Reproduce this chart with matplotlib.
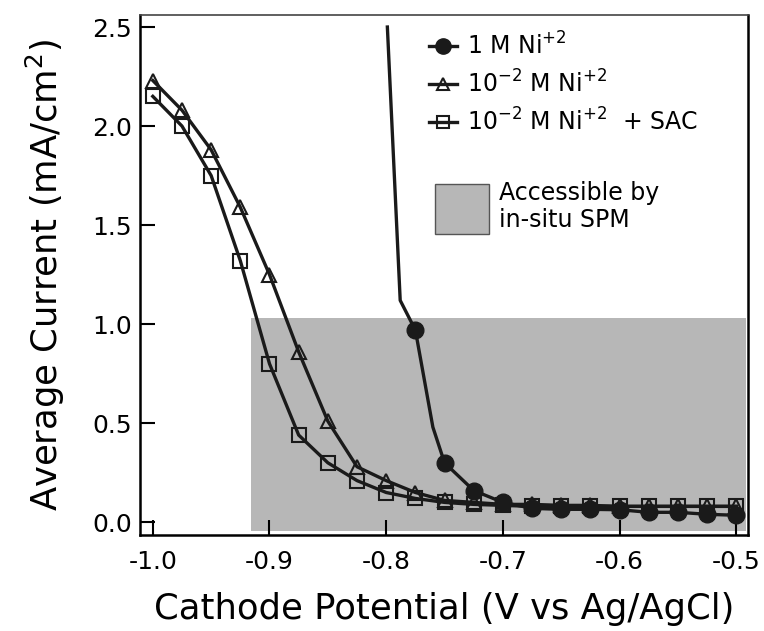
import matplotlib
matplotlib.use("Agg")
import matplotlib.pyplot as plt
from matplotlib.patches import Patch
from matplotlib.lines import Line2D

plt.rcParams['font.family'] = ['DejaVu Sans']
plt.rcParams['mathtext.fontset'] = 'dejavusans'

# Series: 1 M Ni+2 (filled circles); first point is the line start without marker
x_1m = [-0.799, -0.788, -0.775, -0.760, -0.750, -0.725, -0.700, -0.675, -0.650,
        -0.625, -0.600, -0.575, -0.550, -0.525, -0.500]
y_1m = [2.50, 1.12, 0.97, 0.48, 0.30, 0.16, 0.10, 0.07, 0.065,
        0.065, 0.063, 0.05, 0.05, 0.04, 0.035]
mark_1m = [2, 4, 5, 6, 7, 8, 9, 10, 11, 12, 13, 14]

# Series: 10^-2 M Ni+2 (open triangles)
x_2m = [-1.000, -0.975, -0.950, -0.925, -0.900, -0.875, -0.850, -0.825, -0.800,
        -0.775, -0.750, -0.725, -0.700, -0.675, -0.650, -0.625, -0.600, -0.575,
        -0.550, -0.525, -0.500]
y_2m = [2.23, 2.08, 1.88, 1.59, 1.25, 0.86, 0.51, 0.28, 0.21,
        0.15, 0.11, 0.10, 0.09, 0.09, 0.085, 0.085, 0.08, 0.08,
        0.08, 0.08, 0.08]

# Series: 10^-2 M Ni+2 + SAC (open squares)
x_sac = [-1.000, -0.975, -0.950, -0.925, -0.900, -0.875, -0.850, -0.825, -0.800,
         -0.775, -0.750, -0.725, -0.700, -0.675, -0.650, -0.625, -0.600, -0.575,
         -0.550, -0.525, -0.500]
y_sac = [2.15, 2.00, 1.75, 1.32, 0.80, 0.44, 0.30, 0.21, 0.15,
         0.12, 0.10, 0.09, 0.085, 0.08, 0.08, 0.08, 0.08, 0.08,
         0.08, 0.08, 0.08]

# Region accessible by in-situ SPM
spm_x = [-0.916, -0.492]
spm_y = [-0.045, 1.03]

labels = ['1 M Ni$^{+2}$', '10$^{-2}$ M Ni$^{+2}$', '10$^{-2}$ M Ni$^{+2}$  + SAC']
region_label = 'Accessible by\nin-situ SPM'
xticks = [-1.0, -0.9, -0.8, -0.7, -0.6, -0.5]
yticks = [0.0, 0.5, 1.0, 1.5, 2.0, 2.5]

fig = plt.figure(figsize=(7.64, 6.31), dpi=100)
ax = fig.add_axes([0.1832, 0.152, 0.7958, 0.824])

gray = '#b7b7b7'
ax.fill_between(spm_x, spm_y[0], spm_y[1], color=gray, lw=0, zorder=1)

lc = '#1a1a1a'
ax.plot(x_2m, y_2m, '-', color=lc, lw=2.4, marker='^', ms=10, mfc='none',
        mec=lc, mew=1.5, zorder=3)
ax.plot(x_sac, y_sac, '-', color=lc, lw=2.4, marker='s', ms=10, mfc='none',
        mec=lc, mew=1.5, zorder=3)
ax.plot(x_1m, y_1m, '-', color=lc, lw=2.4, marker='o', ms=12, mfc=lc,
        mec=lc, markevery=mark_1m, zorder=4)

ax.set_xlim(-1.011, -0.490)
ax.set_ylim(-0.065, 2.56)
ax.set_xticks(xticks)
ax.set_xticklabels(['-%.1f' % abs(v) for v in xticks])
ax.set_yticks(yticks)
ax.set_yticklabels(['%.1f' % v for v in yticks])
ax.tick_params(direction='in', length=11, width=1.5, labelsize=18)
ax.tick_params(axis='x', pad=11)
ax.tick_params(axis='y', pad=6)
for s in ['left', 'bottom', 'right']:
    ax.spines[s].set_linewidth(1.8)
ax.spines['top'].set_linewidth(1.2)
ax.spines['top'].set_color('#444444')

ax.set_xlabel('Cathode Potential (V vs Ag/AgCl)', fontsize=25.5, labelpad=13)
ax.set_ylabel('Average Current (mA/cm$^2$)', fontsize=25.5, labelpad=18)

handles = [
    Line2D([], [], color=lc, lw=2.4, marker='o', ms=11, mfc=lc, mec=lc),
    Line2D([], [], color=lc, lw=2.4, marker='^', ms=9, mfc='none', mec=lc, mew=1.5),
    Line2D([], [], color=lc, lw=2.4, marker='s', ms=9, mfc='none', mec=lc, mew=1.5),
]
leg1 = ax.legend(handles, labels, loc='upper left', bbox_to_anchor=(0.46, 0.985),
                 frameon=False, fontsize=17, handlelength=1.2, handletextpad=0.4,
                 labelspacing=0.45, borderaxespad=0)
ax.add_artist(leg1)
leg2 = ax.legend([Patch(facecolor=gray, edgecolor='#555555', lw=1)], [region_label],
                 loc='upper left', bbox_to_anchor=(0.47, 0.70), frameon=False,
                 fontsize=17, handlelength=2.3, handleheight=2.9,
                 handletextpad=0.4, borderaxespad=0)

fig.savefig('out.png', dpi=100)
